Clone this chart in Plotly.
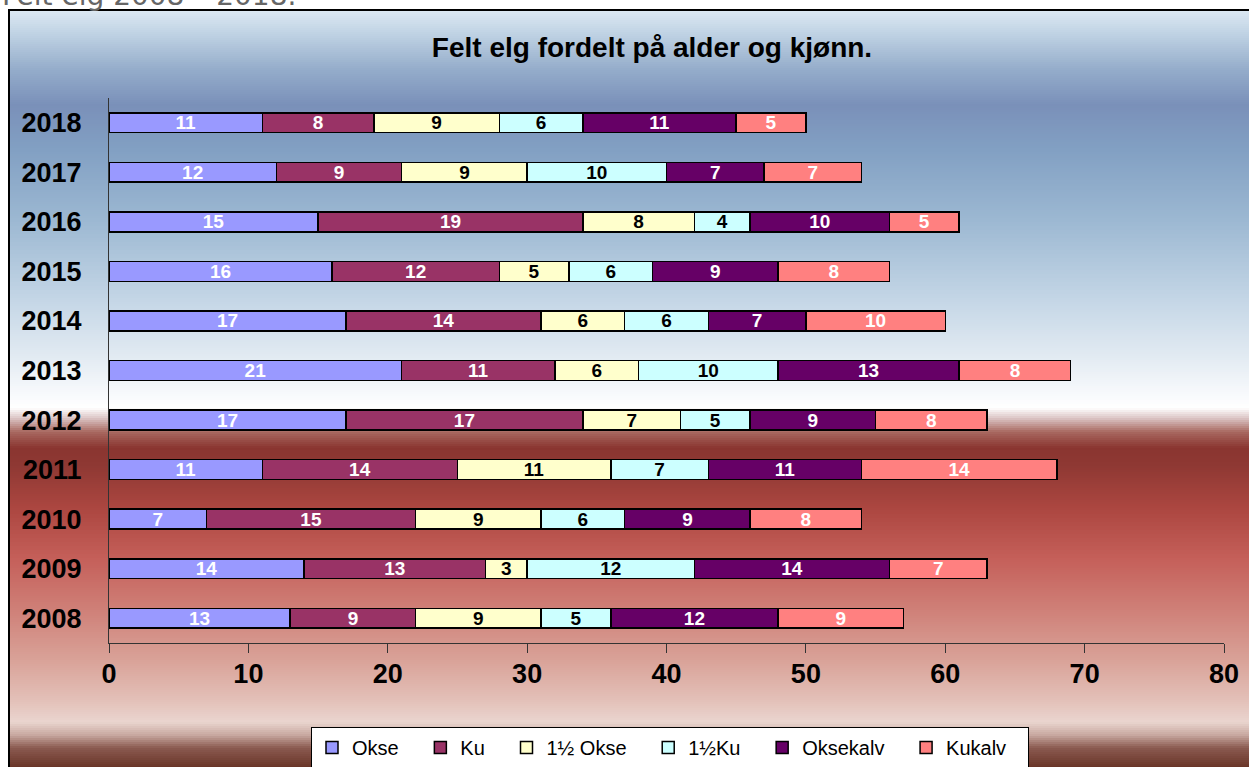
import plotly.graph_objects as go

# ---------------- data ----------------
years = ["2008", "2009", "2010", "2011", "2012", "2013", "2014", "2015", "2016", "2017", "2018"]
okse = [13, 14, 7, 11, 17, 21, 17, 16, 15, 12, 11]
ku = [9, 13, 15, 14, 17, 11, 14, 12, 19, 9, 8]
halv_okse = [9, 3, 9, 11, 7, 6, 6, 5, 8, 9, 9]
halv_ku = [5, 12, 6, 7, 5, 10, 6, 6, 4, 10, 6]
oksekalv = [12, 14, 9, 11, 9, 13, 7, 9, 10, 7, 11]
kukalv = [9, 7, 8, 14, 8, 8, 10, 8, 5, 7, 5]
totals = [57, 63, 54, 68, 63, 69, 60, 56, 61, 54, 50]
series_names = ["Okse", "Ku", "1½ Okse", "1½Ku", "Oksekalv", "Kukalv"]
x_ticks = [0, 10, 20, 30, 40, 50, 60, 70, 80]

# ---------------- styles ----------------
series_values = [okse, ku, halv_okse, halv_ku, oksekalv, kukalv]
colors = ["#9999ff", "#993366", "#ffffcc", "#ccffff", "#660066", "#ff8080"]
label_colors = ["white", "white", "black", "black", "white", "white"]
FONT = "Liberation Sans, Arial, sans-serif"
LEGEND_PAD = "\u00a0" * 3

W, H = 1249, 767
L, R, T, B = 109, 25, 98, 124
pw, ph = W - L - R, H - T - B


def px(x):
    return (x - L) / pw


def py(y):
    return (H - B - y) / ph


stops = [
    (10, "#dde9f3"), (35, "#bed1e3"), (70, "#94acca"), (105, "#7a90b9"),
    (150, "#82a0c3"), (220, "#9cb8d2"), (300, "#c4d6e6"), (360, "#e4ecf3"),
    (398, "#fafbfd"), (408, "#ffffff"), (418, "#dcc6c6"), (432, "#a86860"),
    (448, "#8a3530"), (465, "#8e3833"), (510, "#ad4741"), (560, "#c5605a"),
    (610, "#cf8078"), (660, "#d9a298"), (700, "#e3c0b8"), (722, "#ead5cf"),
    (735, "#c8a8a0"), (748, "#8a5a50"), (767, "#6a3528"),
]


def hex2rgb(h):
    h = h.lstrip("#")
    return tuple(int(h[i:i + 2], 16) for i in (0, 2, 4))


def interp(y):
    if y <= stops[0][0]:
        return stops[0][1]
    for (y0, c0), (y1, c1) in zip(stops, stops[1:]):
        if y0 <= y <= y1:
            t = (y - y0) / (y1 - y0)
            a, b = hex2rgb(c0), hex2rgb(c1)
            r = [round(a[k] + (b[k] - a[k]) * t) for k in range(3)]
            return "rgb(%d,%d,%d)" % tuple(r)
    return stops[-1][1]


# background gradient: each band runs to the bottom, later bands overlay -> no seams
shapes = []
step = 2
for yy in range(10, 768, step):
    shapes.append(dict(
        type="rect", xref="paper", yref="paper", layer="below",
        x0=px(9), x1=px(1260), y0=py(790), y1=py(yy),
        fillcolor=interp(yy + step / 2), line=dict(width=0),
    ))
shapes.append(dict(
    type="rect", xref="paper", yref="paper", layer="below",
    x0=px(9), x1=px(1262), y0=py(790), y1=py(10),
    fillcolor="rgba(0,0,0,0)", line=dict(color="black", width=2),
))

fig = go.Figure()
for name, vals, col, lc in zip(series_names, series_values, colors, label_colors):
    fig.add_trace(go.Bar(
        name=name + LEGEND_PAD, y=years, x=vals, orientation="h", width=0.4,
        marker=dict(color=col, line=dict(color="black", width=1.5)),
        text=vals, textposition="inside", insidetextanchor="middle",
        constraintext="none", textangle=0,
        textfont=dict(family=FONT, size=19, color=lc, weight="bold"),
        hovertemplate=name + ": %{x}<extra></extra>",
    ))

nudge = {"2017": 4, "2013": -2, "2012": -5, "2011": -2, "2010": -11, "2009": -6, "2008": -3}
annotations = []
for yr, tot in zip(years, totals):
    annotations.append(dict(
        x=79.2, y=yr, xref="x", yref="y", text=str(tot), showarrow=False,
        xanchor="center", yanchor="middle", yshift=nudge.get(yr, 0),
        font=dict(family=FONT, size=21, color="black", weight="bold"),
    ))
annotations.append(dict(
    x=px(0), y=py(14), xref="paper", yref="paper", xanchor="left", yanchor="bottom",
    text="Felt elg 2008 – 2018.", showarrow=False,
    font=dict(family="DejaVu Sans, Verdana, sans-serif", size=28, color="#666666"),
))

fig.update_layout(
    width=W, height=H,
    margin=dict(l=L, r=R, t=T, b=B, pad=0, autoexpand=False),
    barmode="stack",
    paper_bgcolor="white", plot_bgcolor="rgba(0,0,0,0)",
    title=dict(
        text="Felt elg fordelt på alder og kjønn.", xref="container", yref="container",
        x=652 / W, y=1 - 47 / H, xanchor="center", yanchor="middle",
        font=dict(family=FONT, size=28, color="black", weight="bold"),
    ),
    xaxis=dict(
        range=[0, 80], tickvals=x_ticks, ticks="outside", ticklen=9, tickcolor="#333333",
        showline=True, linecolor="#333333", linewidth=1, showgrid=False, zeroline=False,
        tickfont=dict(family=FONT, size=27, color="black", weight="bold"),
        ticklabelstandoff=-2, fixedrange=True,
    ),
    yaxis=dict(
        type="category", categoryorder="array", categoryarray=years, range=[-0.5, 10.5],
        showline=True, linecolor="#333333", linewidth=1, showgrid=False, zeroline=False,
        ticks="", ticklabelstandoff=21,
        tickfont=dict(family=FONT, size=27, color="black", weight="bold"),
        fixedrange=True,
    ),
    legend=dict(
        orientation="h", x=px(670), xanchor="center", y=py(727), yanchor="top",
        bgcolor="white", bordercolor="black", borderwidth=1,
        font=dict(family=FONT, size=20, color="black"), traceorder="normal",
    ),
    shapes=shapes,
    annotations=annotations,
    showlegend=True,
)

fig.write_html("out.html", config={"displayModeBar": False})

# remove the default page margin so the figure fills the window exactly
with open("out.html", "r", encoding="utf-8") as f:
    html = f.read()
html = html.replace("<body>", '<body style="margin:0;overflow:hidden">', 1)
with open("out.html", "w", encoding="utf-8") as f:
    f.write(html)
